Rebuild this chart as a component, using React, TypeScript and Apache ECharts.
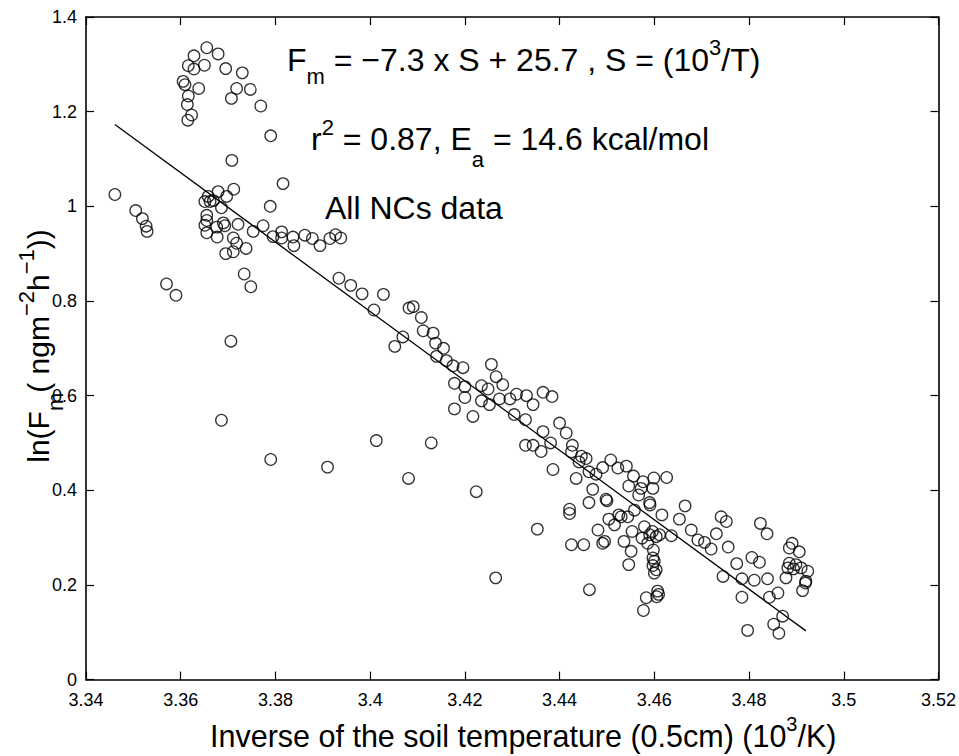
import React, { useEffect, useRef } from "react";
import * as echarts from "echarts";

// ---- data: [inverse soil temperature (10^3/K), ln(Fm)] ----
const clusterHigh: number[][] = [
  [3.3655, 1.335], [3.3679, 1.322], [3.3628, 1.318], [3.3616, 1.297], [3.365, 1.298],
  [3.3628, 1.29], [3.3695, 1.291], [3.373, 1.282], [3.3605, 1.264], [3.3609, 1.257],
  [3.3638, 1.249], [3.3718, 1.249], [3.3747, 1.247], [3.3616, 1.233], [3.3707, 1.228],
  [3.3614, 1.215], [3.3769, 1.212], [3.3623, 1.193], [3.3615, 1.182], [3.379, 1.149],
  [3.3708, 1.097], [3.3816, 1.048], [3.3712, 1.036],
];

const clusterNearOne: number[][] = [
  [3.3461, 1.025], [3.3789, 1.0], [3.3679, 1.031], [3.3658, 1.021], [3.3651, 1.01],
  [3.3662, 1.01], [3.3669, 1.012], [3.3697, 1.021], [3.3686, 0.997], [3.3505, 0.991],
  [3.3519, 0.974], [3.3527, 0.958], [3.3529, 0.947], [3.3655, 0.981], [3.3655, 0.97],
  [3.3651, 0.96], [3.369, 0.965], [3.3693, 0.959], [3.3721, 0.962], [3.3753, 0.947],
  [3.3774, 0.959], [3.3655, 0.944], [3.3676, 0.956], [3.3677, 0.935], [3.3711, 0.933],
  [3.3718, 0.922], [3.3695, 0.9], [3.3711, 0.904], [3.3738, 0.911], [3.3795, 0.936],
  [3.3813, 0.946], [3.3813, 0.933], [3.3837, 0.935], [3.3839, 0.917], [3.3862, 0.939],
  [3.3878, 0.932], [3.3894, 0.917], [3.3915, 0.932], [3.3927, 0.94], [3.3938, 0.933],
];

const outliers: number[][] = [
  [3.3734, 0.857], [3.3748, 0.83], [3.357, 0.836], [3.359, 0.812], [3.3706, 0.715],
  [3.3686, 0.548], [3.379, 0.465], [3.391, 0.449], [3.4013, 0.505], [3.4129, 0.5],
  [3.4081, 0.425], [3.4224, 0.397], [3.4353, 0.318], [3.4265, 0.215],
];

const midBand: number[][] = [
  [3.3934, 0.848], [3.3959, 0.833], [3.3983, 0.815], [3.4028, 0.814], [3.4008, 0.781],
  [3.4082, 0.785], [3.4091, 0.788], [3.4108, 0.765], [3.4112, 0.737], [3.4133, 0.732],
  [3.4069, 0.724], [3.4052, 0.704], [3.4138, 0.711], [3.4155, 0.7], [3.414, 0.683],
  [3.4161, 0.674], [3.4175, 0.663], [3.4196, 0.659], [3.4256, 0.666], [3.4266, 0.64],
  [3.428, 0.623], [3.4178, 0.626], [3.42, 0.619], [3.4235, 0.621], [3.4249, 0.614],
  [3.4309, 0.603], [3.433, 0.6], [3.4365, 0.607], [3.4235, 0.589], [3.4252, 0.581],
  [3.4273, 0.593], [3.4295, 0.593], [3.4344, 0.581], [3.4384, 0.598], [3.4304, 0.56],
  [3.4328, 0.549], [3.44, 0.542], [3.4365, 0.524], [3.4414, 0.521], [3.4381, 0.5],
  [3.4328, 0.495], [3.4344, 0.495], [3.4361, 0.482], [3.4178, 0.572], [3.4217, 0.556],
  [3.42, 0.596],
];

const lowBand: number[][] = [
  [3.4427, 0.495], [3.4425, 0.481], [3.4446, 0.472], [3.4456, 0.467], [3.4441, 0.46],
  [3.4386, 0.444], [3.4435, 0.425], [3.4462, 0.439], [3.4477, 0.434], [3.4508, 0.464],
  [3.4491, 0.448], [3.4523, 0.447], [3.4541, 0.451], [3.4556, 0.43], [3.4546, 0.409],
  [3.4576, 0.418], [3.4572, 0.404], [3.4567, 0.39], [3.4597, 0.404], [3.4599, 0.426],
  [3.4626, 0.427], [3.459, 0.374], [3.4591, 0.369], [3.447, 0.402], [3.4462, 0.374],
  [3.4498, 0.381], [3.45, 0.378], [3.4421, 0.36], [3.4421, 0.351], [3.4525, 0.348],
  [3.453, 0.344], [3.4544, 0.344], [3.4504, 0.339], [3.4516, 0.327], [3.4558, 0.358],
  [3.4616, 0.348], [3.4653, 0.339], [3.4665, 0.367], [3.4481, 0.316], [3.4553, 0.313],
  [3.4536, 0.292], [3.4579, 0.323], [3.459, 0.306], [3.4596, 0.313], [3.4611, 0.306],
  [3.4604, 0.302], [3.4636, 0.304], [3.4491, 0.288], [3.4495, 0.292], [3.4425, 0.285],
  [3.4451, 0.285], [3.4574, 0.299], [3.4586, 0.288], [3.4551, 0.271], [3.4546, 0.243],
  [3.4598, 0.274], [3.4597, 0.257], [3.46, 0.25], [3.4604, 0.232], [3.46, 0.225],
  [3.4597, 0.241], [3.4463, 0.19], [3.4583, 0.173], [3.4577, 0.146], [3.4607, 0.187],
  [3.4609, 0.18], [3.4605, 0.175],
];

const tailBand: number[][] = [
  [3.4678, 0.316], [3.4692, 0.295], [3.4706, 0.29], [3.472, 0.276], [3.4731, 0.308],
  [3.4741, 0.344], [3.4752, 0.334], [3.4745, 0.218], [3.4824, 0.33], [3.4838, 0.308],
  [3.4756, 0.28], [3.4774, 0.245], [3.4806, 0.258], [3.4822, 0.248], [3.4785, 0.213],
  [3.4811, 0.21], [3.4839, 0.213], [3.4785, 0.174], [3.4843, 0.174], [3.4861, 0.183],
  [3.4871, 0.134], [3.4852, 0.117], [3.4863, 0.098], [3.4797, 0.104], [3.4891, 0.288],
  [3.4885, 0.278], [3.4906, 0.27], [3.4885, 0.246], [3.4899, 0.243], [3.491, 0.236],
  [3.4924, 0.229], [3.4882, 0.236], [3.4894, 0.234], [3.492, 0.208], [3.4919, 0.204],
  [3.4913, 0.188], [3.4878, 0.215],
];

// fitted line end points
const fitS = [3.3461, 3.492];
const fitLnF = [1.173, 0.103];

const FONT = "'Liberation Sans', Arial, Helvetica, sans-serif";

function fmt(v: number) {
  return String(parseFloat(v.toFixed(2)));
}

// rich-text helpers: shift a small token up (sup) or down (sub) by d px
const txt = { fontFamily: FONT, fill: "#000", color: "#000" };
function subStyle(size: number, d: number) {
  return { ...txt, fontSize: size, verticalAlign: "middle", padding: [2 * d, 0, 0, 0] };
}
function supStyle(size: number, d: number) {
  return { ...txt, fontSize: size, verticalAlign: "middle", padding: [0, 0, 2 * d, 0] };
}

export default function App() {
  const ref = useRef<HTMLDivElement>(null);

  useEffect(() => {
    const chart = echarts.init(ref.current!, null, { renderer: "svg" });

    const allPoints = [
      ...clusterHigh,
      ...clusterNearOne,
      ...outliers,
      ...midBand,
      ...lowBand,
      ...tailBand,
    ];
    const fitData = fitS.map((s, i) => [s, fitLnF[i]]);

    const axisLine = { onZero: false, lineStyle: { color: "#000", width: 1.6 } };
    const axisTick = { inside: true, length: 8, lineStyle: { color: "#000", width: 1.2 } };
    const tickLabel = { color: "#000", fontSize: 18, fontFamily: FONT };

    const mainTok = (size: number) => ({ ...txt, fontSize: size, verticalAlign: "middle" });

    chart.setOption({
      animation: false,
      backgroundColor: "#fff",
      grid: { left: 86, right: 20, top: 17, bottom: 72 },
      xAxis: [
        {
          type: "value",
          min: 3.34,
          max: 3.52,
          interval: 0.02,
          position: "bottom",
          axisLine,
          axisTick,
          splitLine: { show: false },
          axisLabel: { ...tickLabel, margin: 11, formatter: fmt },
          name: "{t|Inverse of the soil temperature (0.5cm) (10}{sup|3}{t|/K)}",
          nameLocation: "middle",
          nameGap: 32,
          nameTextStyle: {
            fontFamily: FONT,
            fontSize: 30.5,
            color: "#000",
            padding: [0, 0, 0, 22],
            rich: {
              t: { fontFamily: FONT, fontSize: 30.5, color: "#000", lineHeight: 44 },
              sup: { fontFamily: FONT, fontSize: 20, color: "#000", lineHeight: 26, verticalAlign: "top" },
            },
          },
        },
        {
          type: "value",
          min: 3.34,
          max: 3.52,
          interval: 0.02,
          position: "top",
          axisLine,
          axisTick,
          splitLine: { show: false },
          axisLabel: { show: false },
        },
      ],
      yAxis: [
        {
          type: "value",
          min: 0,
          max: 1.4,
          interval: 0.2,
          position: "left",
          axisLine,
          axisTick,
          splitLine: { show: false },
          axisLabel: { ...tickLabel, margin: 9, formatter: fmt },
        },
        {
          type: "value",
          min: 0,
          max: 1.4,
          interval: 0.2,
          position: "right",
          axisLine,
          axisTick,
          splitLine: { show: false },
          axisLabel: { show: false },
        },
      ],
      series: [
        {
          type: "line",
          data: fitData,
          xAxisIndex: 0,
          yAxisIndex: 0,
          symbol: "none",
          lineStyle: { color: "#000", width: 1.3 },
          silent: true,
          z: 3,
        },
        {
          type: "scatter",
          data: allPoints,
          xAxisIndex: 0,
          yAxisIndex: 0,
          symbol: "circle",
          symbolSize: 11.5,
          itemStyle: { color: "rgba(0,0,0,0)", borderColor: "#000", borderWidth: 1.3 },
          z: 4,
        },
      ],
      graphic: [
        {
          type: "text",
          x: 287,
          y: 60,
          style: {
            ...txt,
            text: "{t|F}{sub|m}{t| = −7.3 x S + 25.7 , S = (10}{sup|3}{t|/T)}",
            fontSize: 32,
            align: "left",
            verticalAlign: "middle",
            rich: {
              t: mainTok(32),
              sub: subStyle(22, 16),
              sup: supStyle(22, 13),
            },
          },
        },
        {
          type: "text",
          x: 311,
          y: 139,
          style: {
            ...txt,
            text: "{t|r}{sup|2}{t| = 0.87, E}{sub|a}{t| = 14.6 kcal/mol}",
            fontSize: 32,
            align: "left",
            verticalAlign: "middle",
            rich: {
              t: mainTok(32),
              sub: subStyle(22, 20),
              sup: supStyle(22, 12),
            },
          },
        },
        {
          type: "text",
          x: 325,
          y: 208,
          style: {
            ...txt,
            text: "All NCs data",
            fontSize: 32,
            align: "left",
            verticalAlign: "middle",
          },
        },
        {
          type: "text",
          x: 38,
          y: 346,
          rotation: Math.PI / 2,
          style: {
            ...txt,
            text: "{t|ln(F}{sub|m}{t|( ngm}{sup|−2}{t|h}{sup|−1}{t|))}",
            fontSize: 30,
            align: "center",
            verticalAlign: "middle",
            rich: {
              t: mainTok(30),
              sub: subStyle(22, 17),
              sup: supStyle(22, 12),
            },
          },
        },
      ],
    });

    return () => chart.dispose();
  }, []);

  return (
    <div
      ref={ref}
      style={{ position: "fixed", left: 0, top: 0, width: 959, height: 756, background: "#fff" }}
    />
  );
}
